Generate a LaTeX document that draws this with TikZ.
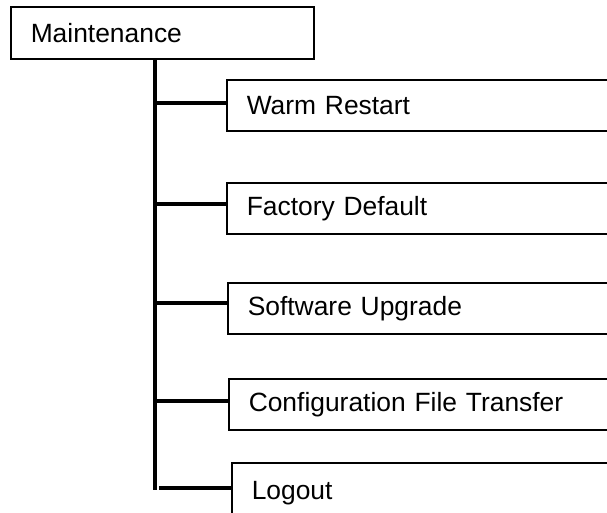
\documentclass[tikz,border=0pt]{standalone}
\usepackage{fontspec}
\setmainfont{Liberation Sans}
\begin{document}
\begin{tikzpicture}[x=1pt,y=-1pt,
  box/.style={draw, line width=1.5pt, anchor=north west, inner xsep=20pt, inner ysep=0pt,
    text width=#1, align=left, font=\fontsize{26.4}{30}\selectfont},
  trunkline/.style={line width=4pt},
  conn/.style={line width=3.5pt}]
\useasboundingbox (0,0) rectangle (607,512);
\clip (0,0) rectangle (607,512);
\fill[white] (0,0) rectangle (607,512);
\node[box=263pt, minimum height=52pt] (main) at (10,6) {Maintenance};
\node[box=354pt, minimum height=51pt] (warm) at (226,79) {Warm Restart};
\node[box=354pt, minimum height=51pt] (fact) at (226,182) {Factory Default};
\node[box=353pt, minimum height=51pt] (soft) at (227,282) {Software Upgrade};
\node[box=352pt, minimum height=51pt] (conf) at (228,378) {Configuration File Transfer};
\node[box=349pt, minimum height=60pt] (logo) at (231,462) {\raisebox{5pt}{Logout}};
\coordinate (ttop) at (155,58);
\coordinate (tbot) at (155,490);
\draw[trunkline] (ttop) -- (tbot);
\draw[conn] (ttop |- 0,103) -- (warm.west |- 0,103);
\draw[conn] (ttop |- 0,204) -- (fact.west |- 0,204);
\draw[conn] (ttop |- 0,303) -- (soft.west |- 0,303);
\draw[conn] (ttop |- 0,401) -- (conf.west |- 0,401);
\draw[conn] (159,488) -- (logo.west |- 0,488);
\end{tikzpicture}
\end{document}
